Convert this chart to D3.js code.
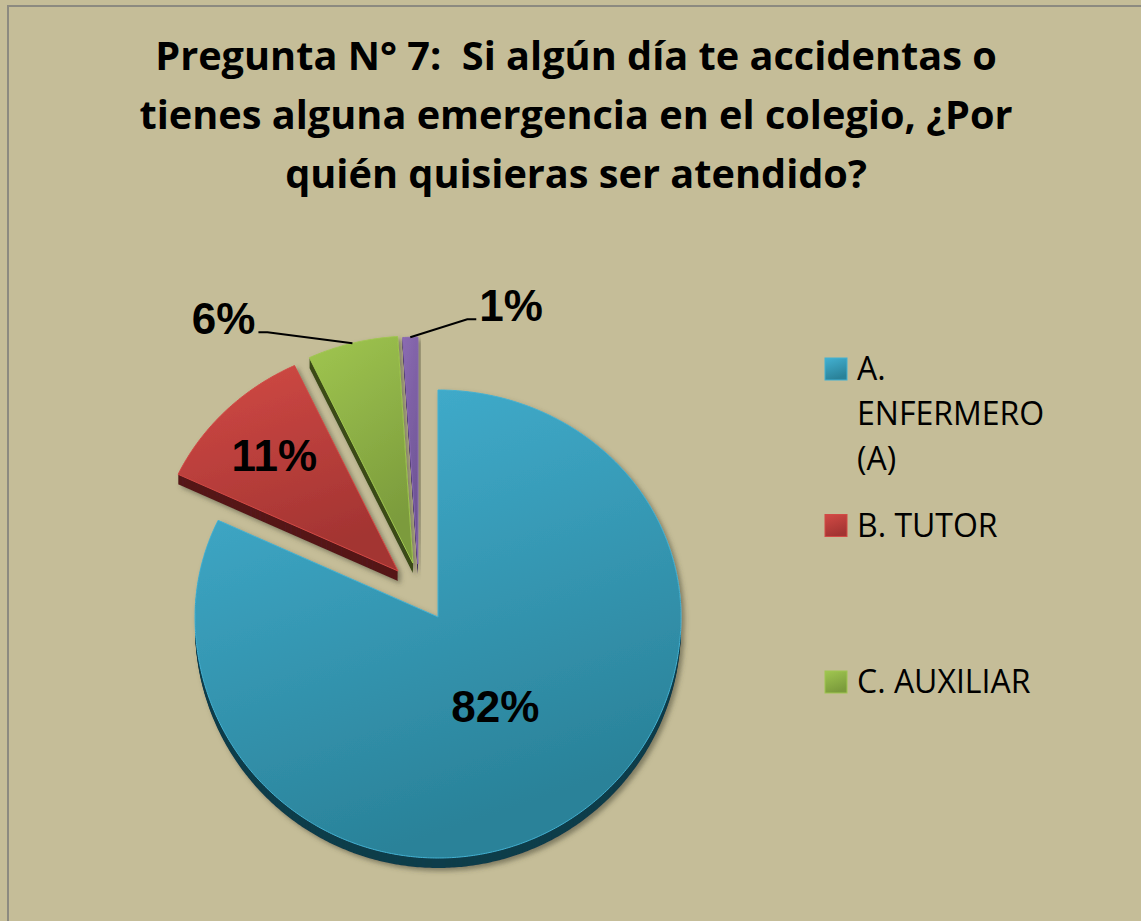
<!DOCTYPE html>
<html>
<head>
<meta charset="utf-8">
<script src="https://cdn.jsdelivr.net/npm/d3@7"></script>
<style>
  body { margin: 0; background: #c5bd98; }
</style>
</head>
<body>
<div id="chart"></div>
<script>
////////
// Data
let titleLines = [
  "Pregunta N° 7:  Si algún día te accidentas o",
  "tienes alguna emergencia en el colegio, ¿Por",
  "quién quisieras ser atendido?"
];
let categories = ["A. ENFERMERO (A)", "B. TUTOR", "C. AUXILIAR", "D."];
let values = [82, 11, 6, 1];
let valueLabels = ["82%", "11%", "6%", "1%"];
// the legend only shows three entries, the first one wrapped
let legendLines = [["A.", "ENFERMERO", "(A)"], ["B. TUTOR"], ["C. AUXILIAR"]];

////////
// Look of the slices
let topColors = ["#43b1d2", "#d24a45", "#a0c650", "#8b6bb2"];
let bottomColors = ["#2a8299", "#a33432", "#7b9b3c", "#6d5394"];
let rimColors = ["#113d4b", "#56171a", "#3b4b1a", "#3a2b58"];
let explodeDist = [0, 61, 59.5, 56.6];
let explodeTilt = [0, 4, -10.6, -19];   // degrees, away from the mid angle

let width = 1141, height = 921;
// slight perspective: the far (top) half is flatter than the near half
let cx = 438, cy = 617, rx = 243, ryTop = 227, ryBot = 241, depth = 10;

let svg = d3.select("#chart")
  .append("svg")
  .attr("width", width)
  .attr("height", height);

let defs = svg.append("defs");

topColors.forEach(function(c, i) {
  let g = defs.append("linearGradient")
    .attr("id", "grad" + i)
    .attr("x1", 0).attr("y1", 0).attr("x2", 0.35).attr("y2", 1);
  g.append("stop").attr("offset", "0%").attr("stop-color", c);
  g.append("stop").attr("offset", "100%").attr("stop-color", bottomColors[i]);
});

let shadow = defs.append("filter")
  .attr("id", "shadow")
  .attr("x", "-20%").attr("y", "-20%").attr("width", "140%").attr("height", "140%");
shadow.append("feDropShadow")
  .attr("dx", 3).attr("dy", 3).attr("stdDeviation", 2.5)
  .attr("flood-color", "#4a4636").attr("flood-opacity", 0.55);

// chart area
svg.append("rect")
  .attr("x", 8).attr("y", 6)
  .attr("width", width).attr("height", height)
  .attr("fill", "#c5bd98")
  .attr("stroke", "#8c8a80")
  .attr("stroke-width", 2);

////////
// Title
let title = svg.append("g");
let titleText = title.selectAll("text")
  .data(titleLines)
  .enter()
  .append("text")
  .attr("x", 0)
  .attr("y", function(d, i) { return 70 + i * 59; })
  .attr("text-anchor", "middle")
  .attr("font-family", "Open Sans")
  .attr("font-weight", "bold")
  .attr("font-size", 39)
  .attr("fill", "#000")
  .style("white-space", "pre")
  .text(function(d) { return d; });
let w0 = titleText.node().getComputedTextLength();
title.attr("transform", `translate(576,0) scale(${842 / w0},1)`);

////////
// Pie
let pie = d3.pie().sort(null).value(function(d) { return d; });
let arcs = pie(values);

// angle (radians, clockwise from 12 o'clock) and radius fraction -> screen offset
function project(a, f) {
  let c = Math.cos(a);
  return [Math.sin(a) * rx * f, -c * f * (c > 0 ? ryTop : ryBot)];
}

function slicePath(d) {
  let pts = [[0, 0]];
  let n = Math.max(2, Math.ceil((d.endAngle - d.startAngle) / 0.01));
  for (let j = 0; j <= n; j++) {
    pts.push(project(d.startAngle + (d.endAngle - d.startAngle) * j / n, 1));
  }
  return d3.line()(pts) + "Z";
}

function offsetOf(d, i) {
  let a = (d.startAngle + d.endAngle) / 2 + explodeTilt[i] * Math.PI / 180;
  return [Math.sin(a) * explodeDist[i], -Math.cos(a) * explodeDist[i]];
}

let slices = svg.selectAll("g.slice")
  .data(arcs)
  .enter()
  .append("g")
  .attr("class", "slice")
  .attr("filter", "url(#shadow)")
  .attr("transform", function(d, i) {
    let o = offsetOf(d, i);
    return `translate(${cx + o[0]},${cy + o[1]})`;
  });

slices.each(function(d, i) {
  let g = d3.select(this);
  let p = slicePath(d);
  for (let t = depth; t >= 1; t--) {
    g.append("path")
      .attr("transform", `translate(0,${t})`)
      .attr("d", p)
      .attr("fill", rimColors[i]);
  }
  g.append("path")
    .attr("d", p)
    .attr("fill", `url(#grad${i})`)
    .attr("stroke", topColors[i])
    .attr("stroke-width", 1);
});

////////
// Value labels
let labelFont = "Liberation Sans";
let insideR = [0.44, 0.72];
let leader = [null, null, [-85, -11], [57, -18]];

arcs.forEach(function(d, i) {
  let o = offsetOf(d, i);
  let ox = cx + o[0], oy = cy + o[1];
  let mid = (d.startAngle + d.endAngle) / 2;
  if (leader[i] === null) {
    let p = project(mid, insideR[i]);
    svg.append("text")
      .attr("x", ox + p[0])
      .attr("y", oy + p[1])
      .attr("dy", "0.36em")
      .attr("text-anchor", "middle")
      .attr("font-family", labelFont)
      .attr("font-weight", "bold")
      .attr("font-size", 44)
      .text(valueLabels[i]);
  } else {
    let p = project(mid, 1);
    let ex = ox + p[0], ey = oy + p[1];
    let bx = ex + leader[i][0], by = ey + leader[i][1];
    let dir = leader[i][0] < 0 ? -1 : 1;
    let tx = bx + dir * 9;
    svg.append("path")
      .attr("d", d3.line()([[ex, ey], [bx, by], [tx, by]]))
      .attr("fill", "none")
      .attr("stroke", "#000")
      .attr("stroke-width", 2);
    svg.append("text")
      .attr("x", tx + dir * 3)
      .attr("y", by - 14)
      .attr("dy", "0.36em")
      .attr("text-anchor", dir < 0 ? "end" : "start")
      .attr("font-family", labelFont)
      .attr("font-weight", "bold")
      .attr("font-size", 44)
      .text(valueLabels[i]);
  }
});

////////
// Legend
let legendY = d3.scaleLinear().domain([0, 1]).range([380, 536.5]);
let legend = svg.selectAll("g.legend")
  .data(legendLines)
  .enter()
  .append("g")
  .attr("class", "legend")
  .attr("transform", function(d, i) { return `translate(825,${legendY(i)})`; });

legend.append("rect")
  .attr("x", 0).attr("y", -22)
  .attr("width", 22).attr("height", 22)
  .attr("fill", function(d, i) { return `url(#grad${i})`; })
  .attr("stroke", function(d, i) { return topColors[i]; })
  .attr("stroke-width", 1);

legend.each(function(lines) {
  d3.select(this).selectAll("text")
    .data(lines)
    .enter()
    .append("text")
    .attr("x", 32)
    .attr("y", function(d, j) { return j * 45; })
    .attr("font-family", "Open Sans")
    .attr("font-size", 32)
    .attr("fill", "#000")
    .text(function(d) { return d; });
});
</script>
</body>
</html>
